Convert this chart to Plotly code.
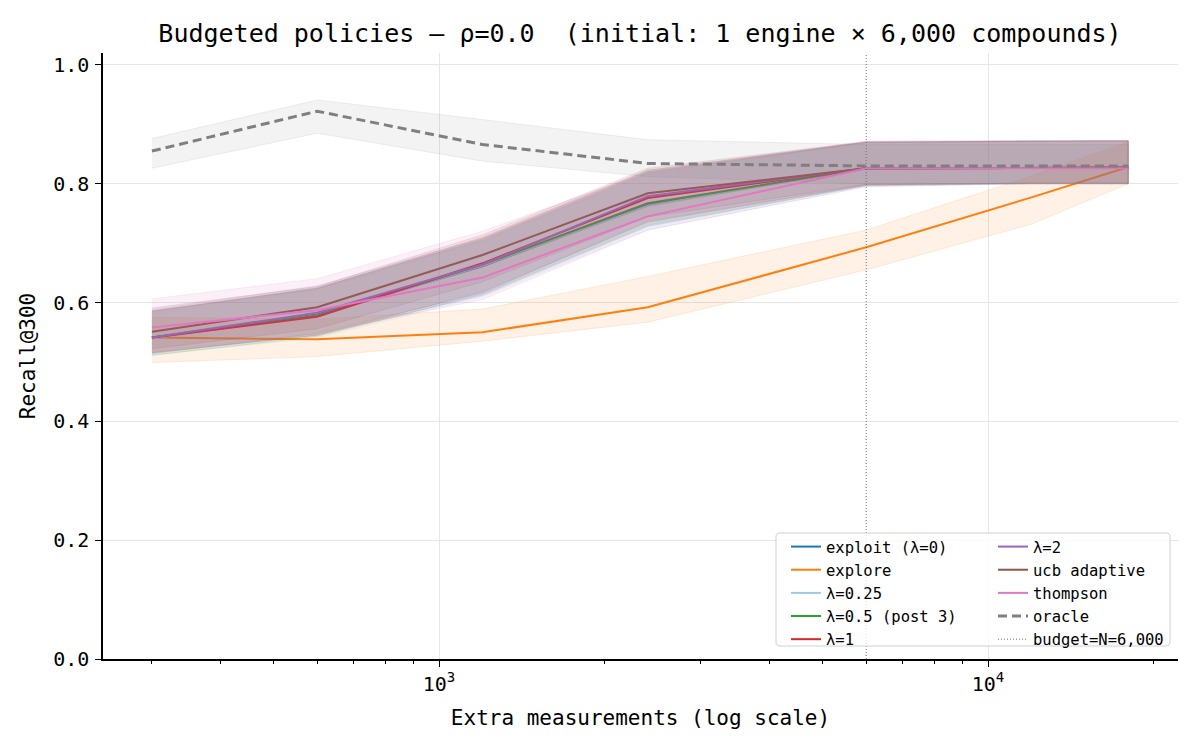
import plotly.graph_objects as go

# ---------------- data ----------------
x_meas = [300, 600, 1200, 2400, 6000, 12000, 18000]
budget_n = 6000

exploit_mean = [0.541, 0.580, 0.661, 0.765, 0.826, 0.827, 0.827]
exploit_hi = [0.585, 0.625, 0.705, 0.818, 0.870, 0.872, 0.872]
exploit_lo = [0.515, 0.545, 0.612, 0.728, 0.797, 0.800, 0.800]

explore_mean = [0.541, 0.538, 0.550, 0.592, 0.693, 0.777, 0.828]
explore_hi = [0.575, 0.572, 0.589, 0.644, 0.722, 0.813, 0.870]
explore_lo = [0.499, 0.509, 0.535, 0.567, 0.655, 0.732, 0.800]

lam025_mean = [0.540, 0.578, 0.662, 0.763, 0.826, 0.827, 0.827]
lam025_hi = [0.582, 0.622, 0.703, 0.815, 0.868, 0.871, 0.871]
lam025_lo = [0.512, 0.540, 0.610, 0.722, 0.795, 0.800, 0.800]

lam05_mean = [0.541, 0.578, 0.664, 0.767, 0.826, 0.827, 0.827]
lam05_hi = [0.585, 0.623, 0.707, 0.820, 0.869, 0.872, 0.872]
lam05_lo = [0.511, 0.543, 0.614, 0.730, 0.797, 0.800, 0.800]

lam1_mean = [0.541, 0.576, 0.666, 0.776, 0.826, 0.827, 0.827]
lam1_hi = [0.586, 0.624, 0.710, 0.823, 0.870, 0.872, 0.872]
lam1_lo = [0.516, 0.545, 0.618, 0.735, 0.798, 0.801, 0.801]

lam2_mean = [0.541, 0.583, 0.664, 0.779, 0.826, 0.827, 0.827]
lam2_hi = [0.588, 0.628, 0.708, 0.822, 0.870, 0.872, 0.872]
lam2_lo = [0.514, 0.548, 0.616, 0.737, 0.798, 0.801, 0.801]

ucb_mean = [0.551, 0.592, 0.680, 0.784, 0.826, 0.827, 0.827]
ucb_hi = [0.591, 0.627, 0.714, 0.826, 0.871, 0.873, 0.873]
ucb_lo = [0.522, 0.556, 0.635, 0.744, 0.799, 0.801, 0.801]

thompson_mean = [0.558, 0.587, 0.642, 0.745, 0.826, 0.826, 0.826]
thompson_hi = [0.606, 0.640, 0.720, 0.820, 0.872, 0.873, 0.873]
thompson_lo = [0.518, 0.548, 0.605, 0.722, 0.795, 0.800, 0.800]

oracle_mean = [0.855, 0.922, 0.866, 0.834, 0.830, 0.830, 0.830]
oracle_hi = [0.876, 0.941, 0.908, 0.874, 0.866, 0.866, 0.866]
oracle_lo = [0.826, 0.885, 0.838, 0.812, 0.800, 0.800, 0.800]

y_ticks = [0.0, 0.2, 0.4, 0.6, 0.8, 1.0]
x_major = [1000, 10000]
x_major_text = ["10<sup>3</sup>", "10<sup>4</sup>"]
x_minor = [300, 400, 500, 600, 700, 800, 900, 2000, 3000, 4000, 5000, 6000,
           7000, 8000, 9000, 20000]

# ---------------- styling ----------------
FONT = "DejaVu Sans Mono"
series = [
    ("exploit (λ=0)", exploit_mean, exploit_hi, exploit_lo, (31, 119, 180), "legend"),
    ("explore", explore_mean, explore_hi, explore_lo, (255, 127, 14), "legend"),
    ("λ=0.25", lam025_mean, lam025_hi, lam025_lo, (158, 202, 225), "legend"),
    ("λ=0.5 (post 3)", lam05_mean, lam05_hi, lam05_lo, (44, 160, 44), "legend"),
    ("λ=1", lam1_mean, lam1_hi, lam1_lo, (214, 39, 40), "legend"),
    ("λ=2", lam2_mean, lam2_hi, lam2_lo, (148, 103, 189), "legend2"),
    ("ucb adaptive", ucb_mean, ucb_hi, ucb_lo, (140, 86, 75), "legend2"),
    ("thompson", thompson_mean, thompson_hi, thompson_lo, (227, 119, 194), "legend2"),
]

W, H = 1200, 750
ML, MR, MT, MB = 103, 22, 53, 91
PW, PH = W - ML - MR, H - MT - MB


def px_x(p):
    return (p - ML) / PW


def px_y(p):
    return (H - MB - p) / PH


fig = go.Figure()


def rgba(c, a):
    return "rgba(%d,%d,%d,%.3f)" % (c[0], c[1], c[2], a)


def add_band(xs, hi, lo, c, a):
    fig.add_trace(go.Scatter(
        x=list(xs) + list(xs)[::-1], y=list(hi) + list(lo)[::-1],
        fill="toself", fillcolor=rgba(c, a), mode="lines",
        line=dict(color=rgba(c, a * 1.6), width=0.8),
        showlegend=False, hoverinfo="skip"))


for name, m, hi, lo, c, lg in series:
    add_band(x_meas, hi, lo, c, 0.11)
    fig.add_trace(go.Scatter(x=x_meas, y=m, mode="lines", name=name,
                             line=dict(color=rgba(c, 1), width=2), legend=lg))

add_band(x_meas, oracle_hi, oracle_lo, (127, 127, 127), 0.09)
fig.add_trace(go.Scatter(x=x_meas, y=oracle_mean, mode="lines", name="oracle",
                         line=dict(color="#7f7f7f", width=3, dash="9px,5px"),
                         legend="legend2"))
fig.add_trace(go.Scatter(x=[None], y=[None], mode="lines", name="budget=N=6,000",
                         line=dict(color="#707070", width=1, dash="1px,2px"),
                         legend="legend2"))

# budget line
fig.add_shape(type="line", xref="x", yref="paper", x0=budget_n, x1=budget_n,
              y0=0, y1=1, line=dict(color="#707070", width=1, dash="1px,2px"))

# legend frame (rounded)
bx0, bx1, by0, by1, r = 776, 1170, 533, 646, 4
path = ("M %f,%f L %f,%f Q %f,%f %f,%f L %f,%f Q %f,%f %f,%f L %f,%f Q %f,%f %f,%f "
        "L %f,%f Q %f,%f %f,%f Z") % (
    px_x(bx0 + r), px_y(by0), px_x(bx1 - r), px_y(by0), px_x(bx1), px_y(by0), px_x(bx1), px_y(by0 + r),
    px_x(bx1), px_y(by1 - r), px_x(bx1), px_y(by1), px_x(bx1 - r), px_y(by1),
    px_x(bx0 + r), px_y(by1), px_x(bx0), px_y(by1), px_x(bx0), px_y(by1 - r),
    px_x(bx0), px_y(by0 + r), px_x(bx0), px_y(by0), px_x(bx0 + r), px_y(by0))
fig.add_shape(type="path", xref="paper", yref="paper", path=path, layer="above",
              fillcolor="rgba(255,255,255,0.8)", line=dict(color="#d0d0d0", width=1))

leg_common = dict(font=dict(family=FONT, size=15.5, color="black"),
                  bgcolor="rgba(0,0,0,0)", borderwidth=0,
                  xanchor="left", yanchor="top", tracegroupgap=0)

fig.update_layout(
    width=W, height=H,
    margin=dict(l=ML, r=MR, t=MT, b=MB),
    paper_bgcolor="white", plot_bgcolor="white",
    font=dict(family=FONT, color="black"),
    title=dict(text="Budgeted policies — ρ=0.0  (initial: 1 engine × 6,000 compounds)",
               font=dict(family=FONT, size=25, color="black"),
               x=640 / W, xanchor="center", y=1 - 33 / H, yanchor="middle"),
    legend=dict(x=px_x(786), y=px_y(530), **leg_common),
    legend2=dict(x=px_x(993), y=px_y(530), **leg_common),
    xaxis=dict(type="log", range=[2.388, 4.346],
               tickvals=x_major, ticktext=x_major_text,
               ticks="outside", ticklen=6, tickwidth=1.2, tickcolor="black",
               tickfont=dict(family=FONT, size=20, color="black"),
               showgrid=True, gridcolor="#e6e6e6", gridwidth=1,
               showline=True, linecolor="black", linewidth=1.5,
               zeroline=False,
               minor=dict(tickvals=x_minor, ticks="outside", ticklen=3.5,
                          tickcolor="black", tickwidth=1, showgrid=False),
               title=dict(text="Extra measurements (log scale)",
                          font=dict(family=FONT, size=21, color="black"), standoff=16)),
    yaxis=dict(range=[0, 1.02], tickvals=y_ticks,
               ticktext=["%.1f" % v for v in y_ticks],
               ticks="outside", ticklen=6, tickwidth=1.2, tickcolor="black",
               tickfont=dict(family=FONT, size=20, color="black"),
               ticklabelstandoff=2,
               showgrid=True, gridcolor="#e6e6e6", gridwidth=1,
               showline=True, linecolor="black", linewidth=1.5,
               zeroline=False,
               title=dict(text="Recall@300",
                          font=dict(family=FONT, size=21, color="black"), standoff=12)),
)

fig.write_html("out.html")
